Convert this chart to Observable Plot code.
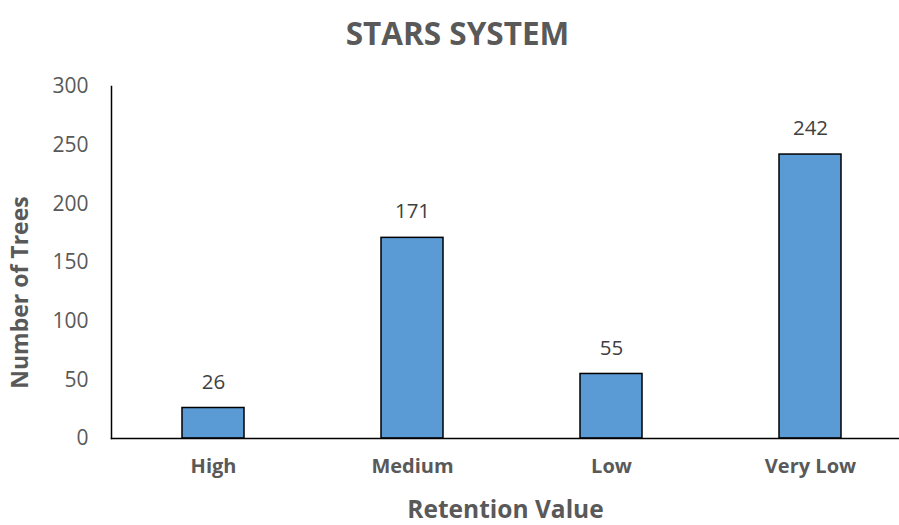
<!DOCTYPE html>
<html>
<head>
<meta charset="utf-8">
<script src="https://cdn.jsdelivr.net/npm/d3@7"></script>
<script src="https://cdn.jsdelivr.net/npm/@observablehq/plot@0.6"></script>
<style>
  html, body { margin: 0; padding: 0; background: #fff; }
  #title { height: 62px; width: 899px; box-sizing: border-box; padding-left: 16px; text-align: center;
    font-family: "Open Sans", sans-serif; font-weight: bold; font-size: 31.5px; color: #595959; line-height: 66px; }
  svg { display: block; }
</style>
</head>
<body>
<div id="title">STARS SYSTEM</div>
<div id="chart"></div>
<script>
const categories = ["High", "Medium", "Low", "Very Low"];
const values = [26, 171, 55, 242];
const yTicks = [0, 50, 100, 150, 200, 250, 300];
const yLabel = "Number of Trees";
const xLabel = "Retention Value";

const data = categories.map((c, i) => ({category: c, value: values[i]}));
const font = "'Open Sans', sans-serif";

const chart = Plot.plot({
  width: 899,
  height: 463,
  marginTop: 24,
  marginBottom: 87,
  marginLeft: 111,
  marginRight: 0,
  style: {fontFamily: font, background: "#fff"},
  x: {domain: categories, range: [112, 910], paddingInner: 0.69, paddingOuter: 0.345, align: 0.5},
  y: {domain: [0, 300], range: [376, 24]},
  marks: [
    Plot.barY(data, {x: "category", y: "value", fill: "#5B9BD5", stroke: "#000", strokeWidth: 1.5}),
    Plot.text(data, {x: "category", y: "value", text: d => String(d.value), dy: -26, fontSize: 20.5, fill: "#404040"}),
    Plot.axisY({ticks: yTicks, tickSize: 0, tickPadding: 23, fontSize: 21, color: "#595959", label: null}),
    Plot.axisX({tickSize: 0, tickPadding: 20, fontSize: 20, fontWeight: "bold", color: "#595959", label: null}),
    Plot.frame({anchor: "left", stroke: "#000", strokeWidth: 1.5}),
    Plot.frame({anchor: "bottom", stroke: "#000", strokeWidth: 1.5}),
    Plot.text([yLabel], {frameAnchor: "left", textAnchor: "middle", lineAnchor: "middle", rotate: -90, dx: -91, dy: 30, fontSize: 23, fontWeight: "bold", fill: "#595959"}),
    Plot.text([xLabel], {frameAnchor: "bottom", lineAnchor: "middle", dy: 72, fontSize: 24.5, fontWeight: "bold", fill: "#595959"})
  ]
});
document.getElementById("chart").appendChild(chart);
</script>
</body>
</html>
